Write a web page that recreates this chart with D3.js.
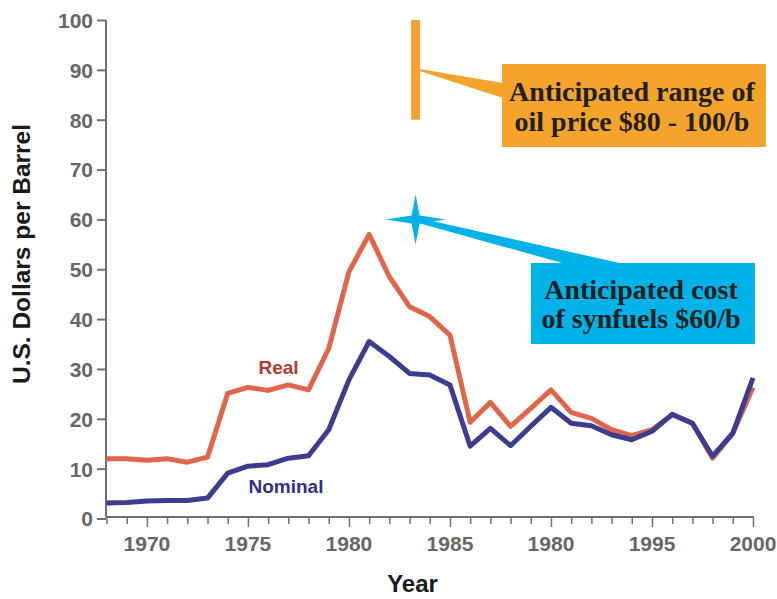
<!DOCTYPE html>
<html>
<head>
  <meta charset="utf-8">
  <title>Oil Price, Real and Nominal</title>
  <style>
    body {
      margin: 0;
      padding: 0;
      background-color: #fff;
    }
    svg {
      display: block;
    }
    .tick-label {
      font-family: "Liberation Sans", Arial, sans-serif;
      font-weight: bold;
      font-size: 21px;
      fill: #676767;
    }
    .axis-title {
      font-family: "Liberation Sans", Arial, sans-serif;
      font-weight: bold;
      fill: #1a1a1a;
    }
    .callout-text {
      font-family: "Liberation Serif", "Times New Roman", serif;
      font-weight: bold;
      font-size: 28px;
      fill: #231f20;
    }
  </style>
</head>
<body>
  <div id="container"></div>

  <script src="https://d3js.org/d3.v7.min.js"></script>
  <script>
    // Chart data
    const years = [1968, 1969, 1970, 1971, 1972, 1973, 1974, 1975, 1976, 1977, 1978,
      1979, 1980, 1981, 1982, 1983, 1984, 1985, 1986, 1987, 1988, 1989, 1990,
      1991, 1992, 1993, 1994, 1995, 1996, 1997, 1998, 1999, 2000];
    const real = [12, 12, 11.7, 12, 11.3, 12.3, 25.1, 26.3, 25.7, 26.8, 25.8,
      34.1, 49.5, 57, 48.5, 42.5, 40.5, 36.8, 19.3, 23.3, 18.5, 22.1, 25.8,
      21.3, 20.1, 17.8, 16.6, 17.8, 20.8, 19.1, 12.1, 17.1, 26.3];
    const nominal = [3.1, 3.2, 3.5, 3.6, 3.6, 4.1, 9.1, 10.5, 10.8, 12.1, 12.6,
      17.8, 27.8, 35.5, 32.5, 29.1, 28.8, 26.8, 14.5, 18.1, 14.6, 18.5, 22.3,
      19.1, 18.6, 16.8, 15.8, 17.5, 20.9, 19.1, 12.5, 17.1, 28.2];

    // Axis ticks (the original chart labels 1990 as "1980")
    const yTicks = [0, 10, 20, 30, 40, 50, 60, 70, 80, 90, 100];
    const xMajorTicks = [1970, 1975, 1980, 1985, 1990, 1995, 2000];
    const xTickLabels = ["1970", "1975", "1980", "1985", "1980", "1995", "2000"];

    // Annotations
    const oilRange = [80, 100];
    const synfuelCost = 60;
    const annotationYear = 1983.3;
    const oilText = ["Anticipated range of", "oil price $80 - 100/b"];
    const synText = ["Anticipated cost", "of synfuels $60/b"];

    const width = 777;
    const height = 599;

    const svg = d3.select("#container")
      .append("svg")
      .attr("width", width)
      .attr("height", height);

    // soft edge on the lines, like the printed original
    svg.append("defs")
      .append("filter")
      .attr("id", "soft")
      .append("feGaussianBlur")
      .attr("stdDeviation", 0.6);

    const x = d3.scaleLinear().domain([1968, 2000]).range([106.5, 753]);
    const y = d3.scaleLinear().domain([0, 100]).range([518.5, 20]);

    // Y axis
    const yAxis = svg.append("g")
      .attr("transform", "translate(106,0)")
      .call(d3.axisLeft(y).tickValues(yTicks).tickSize(9).tickPadding(4).tickSizeOuter(0));
    yAxis.select(".domain").attr("stroke", "#707070").attr("stroke-width", 2)
      .attr("d", `M0,${y(100)}V517`);
    yAxis.selectAll(".tick line").attr("stroke", "#707070").attr("stroke-width", 2);
    yAxis.selectAll(".tick text").attr("class", "tick-label").attr("dy", "0.35em");

    // X axis: minor tick every year, longer one every five
    const xAxis = svg.append("g")
      .attr("transform", "translate(0,517)")
      .call(d3.axisBottom(x).tickValues(years).tickSize(7).tickFormat("").tickSizeOuter(0));
    xAxis.select(".domain").attr("stroke", "#707070").attr("stroke-width", 2)
      .attr("d", `M${x(1968) - 1},0H${x(2000) + 1}`);
    xAxis.selectAll(".tick line")
      .attr("stroke", "#707070")
      .attr("stroke-width", 1.5)
      .attr("y2", d => xMajorTicks.includes(d) ? 10 : 7);

    svg.append("g")
      .selectAll("text")
      .data(xMajorTicks)
      .join("text")
      .attr("class", "tick-label")
      .attr("x", d => x(d))
      .attr("y", 551)
      .attr("text-anchor", "middle")
      .text((d, i) => xTickLabels[i]);

    // Axis titles
    svg.append("text")
      .attr("class", "axis-title")
      .attr("x", 412.5)
      .attr("y", 592)
      .attr("text-anchor", "middle")
      .attr("font-size", 24)
      .text("Year");

    svg.append("text")
      .attr("class", "axis-title")
      .attr("transform", "translate(30,254) rotate(-90)")
      .attr("text-anchor", "middle")
      .attr("font-size", 24.5)
      .text("U.S. Dollars per Barrel");

    // Lines
    const line = d3.line()
      .x((d, i) => x(years[i]))
      .y(d => y(d));

    svg.append("path")
      .datum(real)
      .attr("fill", "none")
      .attr("stroke", "#e0654a")
      .attr("stroke-width", 5)
      .attr("stroke-linejoin", "round")
      .attr("filter", "url(#soft)")
      .attr("d", line);

    svg.append("path")
      .datum(nominal)
      .attr("fill", "none")
      .attr("stroke", "#3a3c92")
      .attr("stroke-width", 5)
      .attr("stroke-linejoin", "round")
      .attr("filter", "url(#soft)")
      .attr("d", line);

    // Series labels
    svg.append("text")
      .attr("x", 278.5)
      .attr("y", 374)
      .attr("text-anchor", "middle")
      .attr("class", "axis-title")
      .attr("font-size", 19)
      .style("fill", "#b4392e")
      .text("Real");

    svg.append("text")
      .attr("x", 286)
      .attr("y", 493)
      .attr("text-anchor", "middle")
      .attr("class", "axis-title")
      .attr("font-size", 19)
      .style("fill", "#2e3191")
      .text("Nominal");

    // Oil price range callout
    const orange = "#f4a42d";
    const ax = x(annotationYear);
    svg.append("rect")
      .attr("x", ax - 4.5)
      .attr("y", y(oilRange[1]))
      .attr("width", 9)
      .attr("height", y(oilRange[0]) - y(oilRange[1]))
      .attr("fill", orange);

    svg.append("polygon")
      .attr("points", [[ax + 4, 69], [ax + 4, 71], [503, 98], [503, 83]].join(" "))
      .attr("fill", orange);

    svg.append("rect")
      .attr("x", 502).attr("y", 64)
      .attr("width", 264).attr("height", 83)
      .attr("fill", orange);

    svg.append("g")
      .selectAll("text")
      .data(oilText)
      .join("text")
      .attr("class", "callout-text")
      .attr("x", 632)
      .attr("y", (d, i) => 101 + i * 30)
      .attr("text-anchor", "middle")
      .text(d => d);

    // Synfuel cost callout
    const cyan = "#00b2e8";
    const sy = y(synfuelCost);
    const star = [[30, 0], [4, -4], [0, -25], [-4, -4], [-30, 0], [-4, 4], [0, 25], [4, 4]];
    svg.append("polygon")
      .attr("points", star.map(p => [ax + p[0], sy + p[1]]).join(" "))
      .attr("fill", cyan);

    svg.append("polygon")
      .attr("points", [[ax + 1, sy - 2], [624, 264], [566, 264], [ax + 1, sy + 3]].join(" "))
      .attr("fill", cyan);

    svg.append("rect")
      .attr("x", 531).attr("y", 263)
      .attr("width", 224).attr("height", 81)
      .attr("fill", cyan);

    svg.append("g")
      .selectAll("text")
      .data(synText)
      .join("text")
      .attr("class", "callout-text")
      .attr("x", 641)
      .attr("y", (d, i) => 299 + i * 29)
      .attr("text-anchor", "middle")
      .text(d => d);
  </script>
</body>
</html>
